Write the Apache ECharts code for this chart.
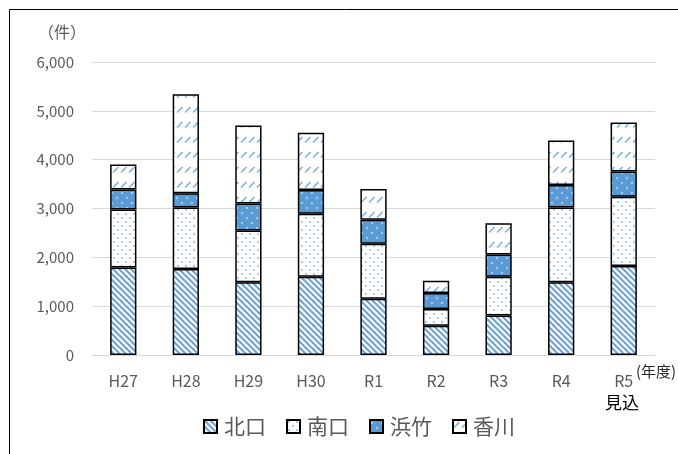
<!DOCTYPE html>
<html>
<head>
<meta charset="utf-8">
<script src="https://cdn.jsdelivr.net/npm/echarts@6/dist/echarts.min.js"></script>
<style>
  html, body { margin: 0; padding: 0; background: #fff; }
  #chart { width: 678px; height: 454px; }
</style>
</head>
<body>
<div id="chart"></div>
<script>
const years = ['H27', 'H28', 'H29', 'H30', 'R1', 'R2', 'R3', 'R4', 'R5'];
const kitaguchi = [1790, 1760, 1490, 1600, 1150, 600, 810, 1490, 1820];
const minamiguchi = [1190, 1260, 1060, 1290, 1130, 340, 790, 1530, 1420];
const hamatake = [410, 290, 550, 490, 490, 330, 460, 460, 520];
const kagawa = [510, 2030, 1600, 1170, 630, 250, 640, 910, 1000];

const BLUE = '#5b9bd5';
const FONT = '"Noto Sans CJK JP", "Noto Sans", sans-serif';

// fill patterns drawn on small canvases
const makePattern = (w, h, draw) => {
    const c = document.createElement('canvas');
    c.width = w;
    c.height = h;
    draw(c.getContext('2d'));
    return { image: c, repeat: 'repeat' };
};

const stripes = makePattern(6, 6, (ctx) => {
    ctx.fillStyle = '#fff';
    ctx.fillRect(0, 0, 6, 6);
    ctx.strokeStyle = '#6aa5dc';
    ctx.lineWidth = 2.2;
    for (let k = -1; k <= 1; k++) {
        ctx.beginPath();
        ctx.moveTo(k * 6 - 1, -1);
        ctx.lineTo(k * 6 + 7, 7);
        ctx.stroke();
    }
});

const dots = makePattern(8, 8, (ctx) => {
    ctx.fillStyle = '#fff';
    ctx.fillRect(0, 0, 8, 8);
    ctx.fillStyle = '#8dbbe6';
    [[2, 2], [6, 6]].forEach(([x, y]) => {
        ctx.beginPath();
        ctx.arc(x, y, 1, 0, Math.PI * 2);
        ctx.fill();
    });
});

const solidDots = makePattern(10, 10, (ctx) => {
    ctx.fillStyle = BLUE;
    ctx.fillRect(0, 0, 10, 10);
    ctx.fillStyle = '#cfe2f3';
    [[2, 3], [7, 8]].forEach(([x, y]) => {
        ctx.beginPath();
        ctx.arc(x, y, 0.9, 0, Math.PI * 2);
        ctx.fill();
    });
});

const dashes = makePattern(8, 15, (ctx) => {
    ctx.fillStyle = '#fff';
    ctx.fillRect(0, 0, 8, 15);
    ctx.strokeStyle = '#7aafe2';
    ctx.lineWidth = 1.6;
    ctx.beginPath();
    ctx.moveTo(1, 7.5);
    ctx.lineTo(6.5, 2);
    ctx.stroke();
});

const makeSeries = (name, data, fill) => ({
    name,
    type: 'bar',
    stack: 'total',
    data,
    barWidth: '42%',
    itemStyle: { color: fill, borderColor: '#000', borderWidth: 1.5 },
});

const chart = echarts.init(document.getElementById('chart'));
chart.setOption({
    animation: false,
    textStyle: { fontFamily: FONT },
    grid: { left: 92, right: 23, top: 62, bottom: 99, containLabel: false },
    legend: {
        left: 198,
        top: 411,
        itemWidth: 13,
        itemHeight: 13,
        itemGap: 20,
        icon: 'rect',
        textStyle: { fontSize: 21, color: '#595959', fontFamily: FONT, padding: [0, 0, 0, 2] },
        data: ['北口', '南口', '浜竹', '香川'],
    },
    xAxis: {
        type: 'category',
        data: years,
        axisLine: { lineStyle: { color: '#d9d9d9', width: 1 } },
        axisTick: { show: false },
        axisLabel: { color: '#595959', fontSize: 16, margin: 18, fontFamily: FONT },
    },
    yAxis: {
        type: 'value',
        min: 0,
        max: 6000,
        interval: 1000,
        axisLine: { show: false },
        axisTick: { show: false },
        splitLine: { lineStyle: { color: '#d9d9d9', width: 1 } },
        axisLabel: {
            color: '#595959',
            fontSize: 15,
            margin: 18,
            fontFamily: FONT,
            formatter: (v) => v.toLocaleString('en-US'),
        },
    },
    graphic: [
        {
            type: 'rect',
            shape: { x: 9.5, y: 9.5, width: 720, height: 500 },
            style: { fill: 'none', stroke: '#000', lineWidth: 1 },
            silent: true,
        },
        {
            type: 'text',
            left: 38,
            top: 24,
            style: { text: '（件）', fontSize: 16, fill: '#595959', fontFamily: FONT },
        },
        {
            type: 'text',
            left: 636,
            top: 364,
            style: { text: '(年度)', fontSize: 15, fill: '#262626', fontFamily: FONT },
        },
        {
            type: 'text',
            left: 605,
            top: 394,
            style: { text: '見込', fontSize: 17, fill: '#000', fontFamily: FONT },
        },
    ],
    series: [
        makeSeries('北口', kitaguchi, stripes),
        makeSeries('南口', minamiguchi, dots),
        makeSeries('浜竹', hamatake, solidDots),
        makeSeries('香川', kagawa, dashes),
    ],
});
</script>
</body>
</html>
